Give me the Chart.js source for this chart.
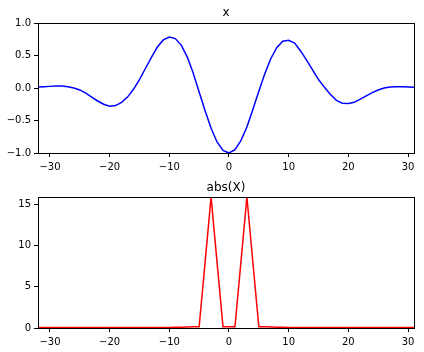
<!DOCTYPE html>
<html lang="en">
<head>
  <meta charset="UTF-8">
  <title>x and abs(X)</title>
  <script src="https://cdn.jsdelivr.net/npm/chart.js"></script>
  <style>
    html, body { margin: 0; padding: 0; background: #fff; }
    #wrap { position: relative; width: 424px; height: 352px; }
    .box { position: absolute; left: 0; width: 424px; height: 176px; }
    #top { top: 0; }
    #bot { top: 176px; }
  </style>
</head>
<body>
  <div id="wrap">
    <div class="box" id="top"><canvas id="sigChart"></canvas></div>
    <div class="box" id="bot"><canvas id="fftChart"></canvas></div>
  </div>

  <script>
    // sample index n = -32 .. 31
    const n = [];
    for (let i = -32; i <= 31; i++) n.push(i);

    // x[n]
    const sig = [
      0.015, 0.02, 0.025, 0.03, 0.03, 0.02, 0.0, -0.03,
      -0.08, -0.14, -0.2, -0.25, -0.28, -0.27, -0.22, -0.14,
      -0.02, 0.13, 0.3, 0.47, 0.63, 0.74, 0.785, 0.76,
      0.66, 0.48, 0.23, -0.06, -0.35, -0.62, -0.83, -0.96,
      -1.0, -0.95, -0.81, -0.6, -0.33, -0.05, 0.22, 0.45,
      0.62, 0.72, 0.735, 0.69, 0.57, 0.43, 0.28, 0.13,
      0.01, -0.1, -0.19, -0.235, -0.24, -0.22, -0.17, -0.12,
      -0.07, -0.03, 0.0, 0.015, 0.02, 0.02, 0.015, 0.01
    ];

    // abs(X)[k]
    const mag = [
      0.05, 0.05, 0.05, 0.05, 0.05, 0.05, 0.05, 0.05,
      0.05, 0.05, 0.05, 0.05, 0.05, 0.05, 0.05, 0.05,
      0.05, 0.05, 0.05, 0.05, 0.05, 0.06, 0.07, 0.08,
      0.1, 0.12, 0.15, 0.15, 8.0, 15.9, 8.0, 0.15,
      0.15, 0.15, 8.0, 15.9, 8.0, 0.15, 0.15, 0.12,
      0.1, 0.08, 0.07, 0.06, 0.05, 0.05, 0.05, 0.05,
      0.05, 0.05, 0.05, 0.05, 0.05, 0.05, 0.05, 0.05,
      0.05, 0.05, 0.05, 0.05, 0.05, 0.05, 0.05, 0.05
    ];

    const xTicks = [-30, -20, -10, 0, 10, 20, 30];
    const sigTicks = [-1.0, -0.5, 0.0, 0.5, 1.0];
    const magTicks = [0, 5, 10, 15];

    const FONT = 'DejaVu Sans';
    Chart.defaults.font.family = FONT;
    Chart.defaults.font.size = 10;
    Chart.defaults.color = '#000';

    const fmt = (v, digits) => {
      const s = Math.abs(v).toFixed(digits);
      return v < 0 ? '\u2212' + s : s;
    };

    // box around plot area + title, matplotlib style
    const frame = {
      id: 'frame',
      afterDraw(chart, args, opts) {
        const { ctx, chartArea: a } = chart;
        ctx.save();
        ctx.strokeStyle = '#000';
        ctx.lineWidth = 1;
        ctx.strokeRect(Math.round(a.left) + 0.5, Math.round(a.top) + 0.5,
          Math.round(a.right - a.left), Math.round(a.bottom - a.top));
        ctx.fillStyle = '#000';
        ctx.font = '12px ' + FONT;
        ctx.textAlign = 'center';
        ctx.textBaseline = 'middle';
        ctx.fillText(opts.text, (a.left + a.right) / 2, opts.y);
        ctx.restore();
      }
    };

    function makeChart(id, values, color, yMin, yMax, yTicks, yDigits, title, titleY, pad, xH) {
      const data = n.map((v, i) => ({ x: v, y: values[i] }));
      return new Chart(document.getElementById(id), {
        type: 'line',
        data: {
          datasets: [{
            data, borderColor: color, borderWidth: 1.5,
            pointRadius: 0, tension: 0, fill: false
          }]
        },
        options: {
          animation: false, responsive: true, maintainAspectRatio: false,
          layout: { padding: pad },
          plugins: {
            legend: { display: false }, tooltip: { enabled: false },
            frame: { text: title, y: titleY }
          },
          scales: {
            x: {
              type: 'linear', min: -32, max: 31,
              afterBuildTicks: s => { s.ticks = xTicks.map(v => ({ value: v })); },
              afterFit: s => { s.height = xH; },
              ticks: { callback: v => fmt(v, 0), maxRotation: 0, padding: 4, autoSkip: false },
              grid: { drawOnChartArea: false, drawTicks: true, tickLength: 4, color: '#000' },
              border: { display: false }
            },
            y: {
              min: yMin, max: yMax,
              afterBuildTicks: s => { s.ticks = yTicks.map(v => ({ value: v })); },
              afterFit: s => { s.width = 38; },
              ticks: { callback: v => fmt(v, yDigits), padding: 3, autoSkip: false },
              grid: { drawOnChartArea: false, drawTicks: true, tickLength: 4, color: '#000' },
              border: { display: false }
            }
          }
        },
        plugins: [frame]
      });
    }

    makeChart('sigChart', sig, '#0000ff', -1, 1, sigTicks, 1, 'x', 13,
      { top: 23, right: 10, left: 0, bottom: 0 }, 23);
    makeChart('fftChart', mag, '#ff0000', 0, 15.9, magTicks, 0, 'abs(X)', 12,
      { top: 21, right: 10, left: 0, bottom: 0 }, 24);
  </script>
</body>
</html>
